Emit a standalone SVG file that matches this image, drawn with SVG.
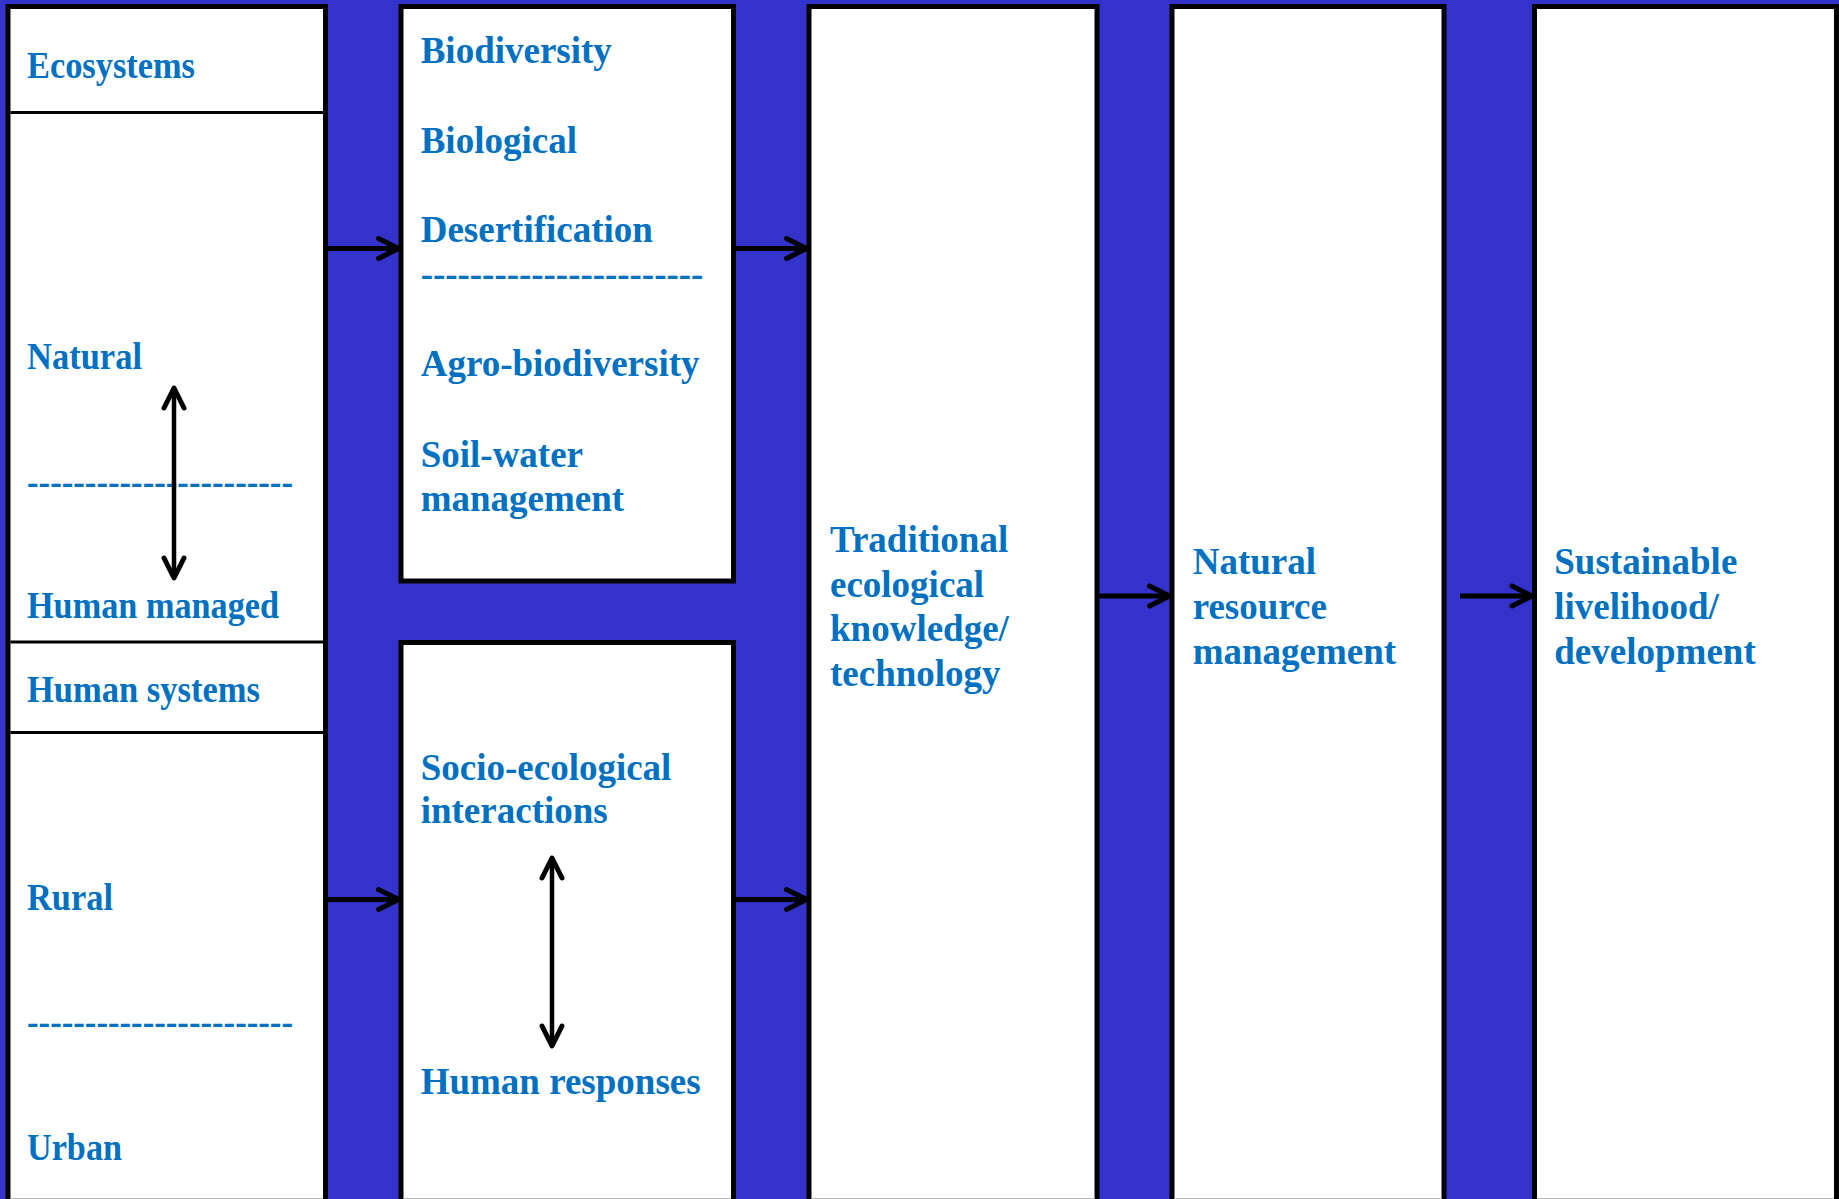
<svg xmlns="http://www.w3.org/2000/svg" width="1839" height="1199" viewBox="0 0 1839 1199">
  <defs>
    <style>
      .bg { fill: #3333CC; }
      .box { fill: #FFFFFF; stroke: #000000; stroke-width: 5; }
      .rule { stroke: #000000; stroke-width: 3; }
      .edge { stroke: #B4B4B4; stroke-width: 1; }
      .t { font-family: "Liberation Serif", "Times New Roman", serif; font-weight: bold; font-size: 37px; fill: #0070C0; }
      .link { stroke: #000000; stroke-width: 5; fill: none; }
      .link2 { stroke: #000000; stroke-width: 4.5; fill: none; }
    </style>
    <marker id="head" markerUnits="userSpaceOnUse" viewBox="-24 -14 28 28" refX="0" refY="0" markerWidth="28" markerHeight="28" orient="auto-start-reverse">
      <path d="M-20,-10 L0,0 L-20,10" fill="none" stroke="#000000" stroke-width="5" stroke-linecap="round" stroke-linejoin="round"/>
    </marker>
  </defs>

  <!-- background -->
  <rect class="bg" x="0" y="0" width="1839" height="1199"/>

  <!-- left column: ecosystems / human systems -->
  <g id="systems">
    <rect class="box" x="8" y="6.5" width="317.5" height="1210"/>
    <line class="rule" x1="10.5" y1="112.5" x2="323" y2="112.5"/>
    <line class="rule" x1="10.5" y1="642" x2="323" y2="642"/>
    <line class="rule" x1="10.5" y1="732.5" x2="323" y2="732.5"/>
    <line class="edge" x1="10.5" y1="1198.5" x2="323" y2="1198.5"/>
    <text class="t" x="27" y="78" textLength="168" lengthAdjust="spacingAndGlyphs">Ecosystems</text>
    <text class="t" x="27" y="369" textLength="115" lengthAdjust="spacingAndGlyphs">Natural</text>
    <text class="t" x="27" y="493.5" textLength="266" lengthAdjust="spacingAndGlyphs">-----------------------</text>
    <text class="t" x="27" y="617.5" textLength="252" lengthAdjust="spacingAndGlyphs">Human managed</text>
    <text class="t" x="27" y="701.5" textLength="233" lengthAdjust="spacingAndGlyphs">Human systems</text>
    <text class="t" x="27" y="909.8" textLength="86" lengthAdjust="spacingAndGlyphs">Rural</text>
    <text class="t" x="27" y="1034" textLength="266" lengthAdjust="spacingAndGlyphs">-----------------------</text>
    <text class="t" x="27" y="1159.8" textLength="95" lengthAdjust="spacingAndGlyphs">Urban</text>
  </g>

  <!-- upper middle: ecological themes -->
  <g id="themes">
    <rect class="box" x="401" y="6.5" width="332.5" height="574.5"/>
    <text class="t" x="420.7" y="62.5">Biodiversity</text>
    <text class="t" x="420.7" y="152.5">Biological</text>
    <text class="t" x="420.7" y="241.5">Desertification</text>
    <text class="t" x="420.7" y="286" textLength="282.6" lengthAdjust="spacingAndGlyphs">-----------------------</text>
    <text class="t" x="420.7" y="375.5">Agro-biodiversity</text>
    <text class="t" x="420.7" y="466.5">Soil-water</text>
    <text class="t" x="420.7" y="510.8">management</text>
  </g>

  <!-- lower middle: socio-ecological interactions -->
  <g id="interactions">
    <rect class="box" x="401" y="642.5" width="332.5" height="600"/>
    <line class="edge" x1="403.5" y1="1198.5" x2="731" y2="1198.5"/>
    <text class="t" x="420.7" y="780.3">Socio-ecological</text>
    <text class="t" x="420.7" y="823.1">interactions</text>
    <text class="t" x="420.7" y="1093.5">Human responses</text>
  </g>

  <!-- traditional ecological knowledge -->
  <g id="tek">
    <rect class="box" x="809" y="6.5" width="288" height="1210"/>
    <line class="edge" x1="811.5" y1="1198.5" x2="1094.5" y2="1198.5"/>
    <text class="t" x="830" y="552.2">Traditional</text>
    <text class="t" x="830" y="596.5">ecological</text>
    <text class="t" x="830" y="641">knowledge/</text>
    <text class="t" x="830" y="685.5">technology</text>
  </g>

  <!-- natural resource management -->
  <g id="nrm">
    <rect class="box" x="1172" y="6.5" width="272" height="1210"/>
    <line class="edge" x1="1174.5" y1="1198.5" x2="1441.5" y2="1198.5"/>
    <text class="t" x="1192.7" y="574.2">Natural</text>
    <text class="t" x="1192.7" y="619.2">resource</text>
    <text class="t" x="1192.7" y="663.5">management</text>
  </g>

  <!-- sustainable livelihood -->
  <g id="livelihood">
    <rect class="box" x="1534.5" y="6.5" width="302" height="1210"/>
    <line class="edge" x1="1537" y1="1198.5" x2="1834" y2="1198.5"/>
    <text class="t" x="1554.3" y="574.2">Sustainable</text>
    <text class="t" x="1554.3" y="619.2">livelihood/</text>
    <text class="t" x="1554.3" y="663.5">development</text>
  </g>

  <!-- connectors -->
  <g id="connectors">
    <line class="link" x1="328" y1="248.5" x2="398.5" y2="248.5" marker-end="url(#head)"/>
    <line class="link" x1="736" y1="248.5" x2="806.5" y2="248.5" marker-end="url(#head)"/>
    <line class="link" x1="328" y1="899.5" x2="398.5" y2="899.5" marker-end="url(#head)"/>
    <line class="link" x1="736" y1="899.5" x2="806.5" y2="899.5" marker-end="url(#head)"/>
    <line class="link" x1="1099.5" y1="596" x2="1169.5" y2="596" marker-end="url(#head)"/>
    <line class="link" x1="1460" y1="596" x2="1532" y2="596" marker-end="url(#head)"/>
    <line class="link2" x1="174" y1="388" x2="174" y2="578" marker-start="url(#head)" marker-end="url(#head)"/>
    <line class="link2" x1="552" y1="858" x2="552" y2="1046" marker-start="url(#head)" marker-end="url(#head)"/>
  </g>
</svg>
